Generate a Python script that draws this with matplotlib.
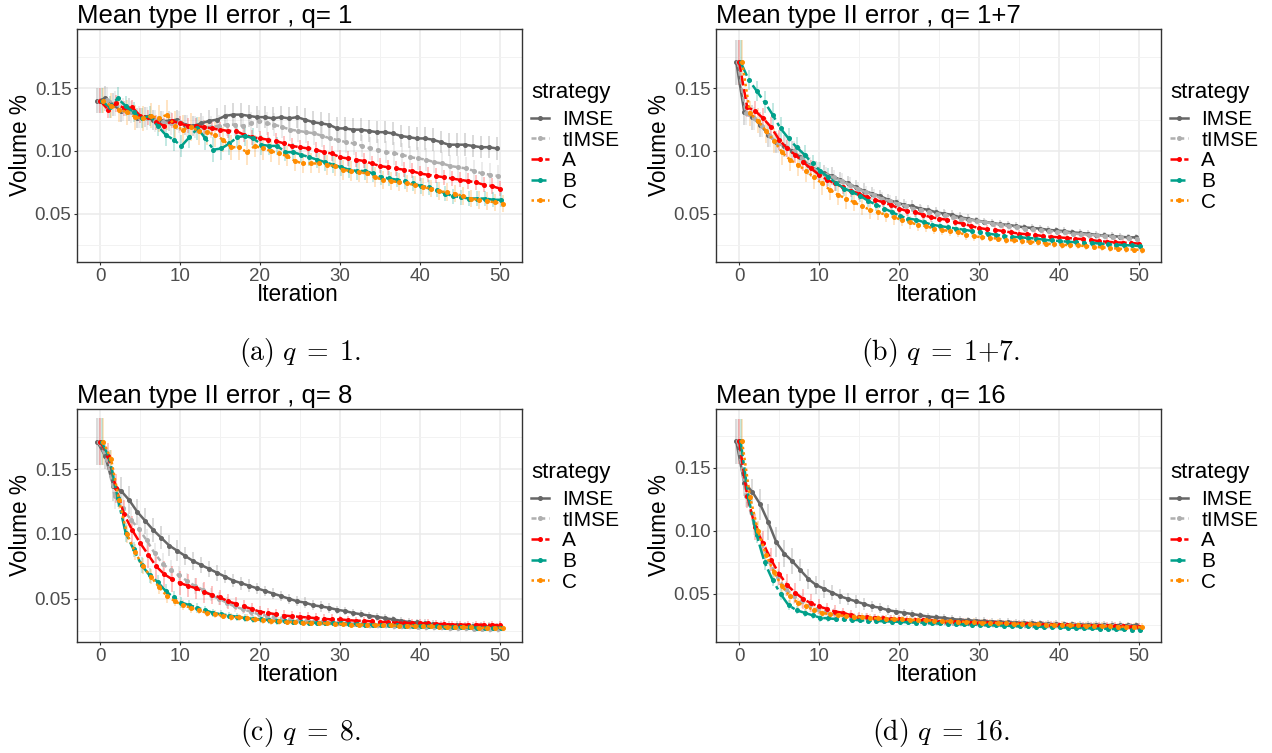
import numpy as np
import matplotlib.pyplot as plt
from matplotlib.lines import Line2D
from matplotlib.ticker import MultipleLocator

plt.rcParams['font.family'] = ['Liberation Sans', 'DejaVu Sans']
plt.rcParams['mathtext.fontset'] = 'cm'

W, H = 1272, 753

iteration = np.arange(51)
strategies = ['IMSE', 'tIMSE', 'A', 'B', 'C']
colors = ['#666666', '#AFAFAF', '#FF0000', '#00A08A', '#FF8C00']
styles = ['-', (0, (2, 1.5)), (0, (4, 1.5)), (0, (6, 1.5, 1.5, 1.5)), (0, (1, 1.2))]

titles = ['Mean type II error , q= 1', 'Mean type II error , q= 1+7',
          'Mean type II error , q= 8', 'Mean type II error , q= 16']
captions = [r'$\mathrm{(a)}\ q\;=\;1\mathrm{.}$', r'$\mathrm{(b)}\ q\;=\;1{+}7\mathrm{.}$',
            r'$\mathrm{(c)}\ q\;=\;8\mathrm{.}$', r'$\mathrm{(d)}\ q\;=\;16\mathrm{.}$']

# ---- q = 1 ----
imse_q1 = [0.140, 0.142, 0.137, 0.132, 0.133, 0.126, 0.127, 0.125, 0.124, 0.124,
           0.125, 0.121, 0.120, 0.122, 0.124, 0.125, 0.128, 0.129, 0.129, 0.128,
           0.127, 0.127, 0.126, 0.127, 0.126, 0.127, 0.125, 0.123, 0.122, 0.121,
           0.118, 0.118, 0.117, 0.117, 0.116, 0.115, 0.115, 0.114, 0.112, 0.111,
           0.110, 0.110, 0.109, 0.107, 0.105, 0.105, 0.105, 0.104, 0.103, 0.103,
           0.102]
timse_q1 = [0.140, 0.141, 0.138, 0.133, 0.131, 0.127, 0.126, 0.124, 0.123, 0.122,
            0.123, 0.120, 0.119, 0.119, 0.119, 0.120, 0.121, 0.121, 0.120, 0.122,
            0.124, 0.122, 0.121, 0.119, 0.117, 0.116, 0.115, 0.114, 0.112, 0.110,
            0.1085, 0.107, 0.106, 0.104, 0.102, 0.1005, 0.099, 0.098, 0.097, 0.095,
            0.094, 0.093, 0.091, 0.090, 0.088, 0.087, 0.086, 0.084, 0.082, 0.081,
            0.080]
a_q1 = [0.140, 0.133, 0.138, 0.134, 0.135, 0.128, 0.127, 0.123, 0.120, 0.124,
        0.122, 0.120, 0.120, 0.119, 0.118, 0.117, 0.116, 0.116, 0.113, 0.111,
        0.110, 0.109, 0.108, 0.106, 0.104, 0.103, 0.102, 0.101, 0.099, 0.098,
        0.095, 0.094, 0.093, 0.092, 0.090, 0.088, 0.087, 0.086, 0.085, 0.084,
        0.082, 0.081, 0.080, 0.079, 0.078, 0.077, 0.076, 0.075, 0.073, 0.072,
        0.070]
b_q1 = [0.140, 0.135, 0.142, 0.136, 0.131, 0.126, 0.128, 0.120, 0.113, 0.109,
        0.104, 0.111, 0.118, 0.110, 0.101, 0.102, 0.106, 0.111, 0.112, 0.110,
        0.105, 0.104, 0.104, 0.099, 0.099, 0.097, 0.095, 0.093, 0.091, 0.089,
        0.087, 0.085, 0.084, 0.084, 0.082, 0.079, 0.078, 0.077, 0.076, 0.074,
        0.072, 0.071, 0.069, 0.066, 0.064, 0.063, 0.062, 0.062, 0.062, 0.061,
        0.061]
c_q1 = [0.140, 0.136, 0.133, 0.131, 0.127, 0.126, 0.128, 0.126, 0.129, 0.120,
        0.117, 0.119, 0.116, 0.115, 0.113, 0.109, 0.103, 0.103, 0.099, 0.104,
        0.102, 0.100, 0.098, 0.096, 0.092, 0.090, 0.090, 0.090, 0.089, 0.088,
        0.085, 0.084, 0.083, 0.082, 0.079, 0.077, 0.076, 0.075, 0.074, 0.073,
        0.071, 0.070, 0.068, 0.067, 0.066, 0.064, 0.062, 0.061, 0.060, 0.059,
        0.058]
imse_q1_err = [0.010, 0.010, 0.009, 0.009, 0.009, 0.008, 0.008, 0.008, 0.008, 0.008,
               0.008, 0.008, 0.008, 0.008, 0.009, 0.009, 0.009, 0.009, 0.009, 0.009,
               0.009, 0.009, 0.009, 0.009, 0.009, 0.009, 0.009, 0.009, 0.009, 0.009,
               0.009, 0.009, 0.009, 0.009, 0.009, 0.009, 0.009, 0.009, 0.009, 0.009,
               0.009, 0.009, 0.009, 0.009, 0.009, 0.009, 0.009, 0.009, 0.009, 0.009,
               0.009]
timse_q1_err = [0.010, 0.010, 0.010, 0.009, 0.009, 0.009, 0.009, 0.009, 0.009, 0.009,
                0.009, 0.009, 0.009, 0.009, 0.009, 0.009, 0.009, 0.009, 0.009, 0.009,
                0.009, 0.009, 0.009, 0.009, 0.009, 0.009, 0.009, 0.009, 0.009, 0.009,
                0.009, 0.009, 0.009, 0.009, 0.009, 0.009, 0.009, 0.009, 0.009, 0.009,
                0.009, 0.009, 0.009, 0.009, 0.009, 0.009, 0.009, 0.009, 0.009, 0.009,
                0.009]
a_q1_err = [0.010, 0.007, 0.007, 0.006, 0.006, 0.006, 0.006, 0.006, 0.006, 0.006,
            0.006, 0.006, 0.006, 0.006, 0.006, 0.006, 0.006, 0.006, 0.006, 0.006,
            0.006, 0.006, 0.006, 0.006, 0.006, 0.006, 0.006, 0.006, 0.006, 0.006,
            0.006, 0.006, 0.006, 0.006, 0.006, 0.006, 0.006, 0.006, 0.006, 0.006,
            0.006, 0.006, 0.006, 0.006, 0.006, 0.006, 0.006, 0.006, 0.006, 0.006,
            0.006]
b_q1_err = [0.010, 0.009, 0.009, 0.008, 0.008, 0.008, 0.008, 0.008, 0.009, 0.009,
            0.009, 0.009, 0.009, 0.009, 0.010, 0.009, 0.009, 0.009, 0.008, 0.008,
            0.008, 0.007, 0.007, 0.007, 0.007, 0.007, 0.007, 0.007, 0.007, 0.007,
            0.007, 0.007, 0.007, 0.007, 0.007, 0.006, 0.006, 0.006, 0.006, 0.006,
            0.006, 0.006, 0.006, 0.006, 0.006, 0.006, 0.006, 0.006, 0.006, 0.006,
            0.006]
c_q1_err = [0.010, 0.010, 0.010, 0.010, 0.010, 0.010, 0.010, 0.011, 0.012, 0.012,
            0.012, 0.011, 0.011, 0.010, 0.010, 0.010, 0.010, 0.010, 0.010, 0.009,
            0.009, 0.009, 0.009, 0.008, 0.008, 0.008, 0.008, 0.008, 0.008, 0.008,
            0.008, 0.008, 0.008, 0.008, 0.008, 0.007, 0.007, 0.007, 0.007, 0.007,
            0.007, 0.007, 0.007, 0.007, 0.007, 0.007, 0.007, 0.007, 0.007, 0.007,
            0.007]

# ---- q = 1+7 ----
imse_q17 = [0.171, 0.131, 0.127, 0.121, 0.113, 0.107, 0.104, 0.100, 0.095, 0.089,
            0.085, 0.082, 0.080, 0.077, 0.074, 0.071, 0.068, 0.066, 0.064, 0.061,
            0.059, 0.057, 0.056, 0.054, 0.053, 0.051, 0.050, 0.049, 0.047, 0.046,
            0.0445, 0.0435, 0.0425, 0.0415, 0.041, 0.040, 0.039, 0.0385, 0.038, 0.037,
            0.0365, 0.036, 0.035, 0.0345, 0.034, 0.033, 0.0325, 0.032, 0.0315, 0.031,
            0.031]
timse_q17 = [0.171, 0.130, 0.126, 0.120, 0.112, 0.106, 0.103, 0.100, 0.094, 0.088,
             0.084, 0.081, 0.079, 0.076, 0.073, 0.070, 0.067, 0.065, 0.062, 0.060,
             0.058, 0.056, 0.054, 0.053, 0.051, 0.050, 0.049, 0.047, 0.046, 0.045,
             0.044, 0.043, 0.042, 0.041, 0.040, 0.039, 0.038, 0.0375, 0.037, 0.036,
             0.0355, 0.035, 0.034, 0.0335, 0.033, 0.0325, 0.032, 0.0315, 0.031, 0.0305,
             0.030]
a_q17 = [0.171, 0.135, 0.132, 0.126, 0.119, 0.109, 0.102, 0.097, 0.091, 0.086,
         0.081, 0.077, 0.074, 0.071, 0.068, 0.066, 0.063, 0.061, 0.059, 0.057,
         0.054, 0.052, 0.051, 0.049, 0.047, 0.046, 0.045, 0.043, 0.042, 0.040,
         0.0385, 0.0375, 0.037, 0.036, 0.035, 0.034, 0.0335, 0.033, 0.032, 0.0315,
         0.031, 0.0305, 0.030, 0.0295, 0.029, 0.028, 0.0275, 0.027, 0.0268, 0.0265,
         0.026]
b_q17 = [0.171, 0.157, 0.148, 0.139, 0.129, 0.118, 0.110, 0.103, 0.097, 0.090,
         0.084, 0.079, 0.074, 0.070, 0.067, 0.064, 0.060, 0.057, 0.054, 0.051,
         0.048, 0.046, 0.045, 0.043, 0.041, 0.040, 0.039, 0.038, 0.037, 0.036,
         0.035, 0.034, 0.033, 0.032, 0.0315, 0.031, 0.0305, 0.030, 0.029, 0.0285,
         0.028, 0.0275, 0.027, 0.0268, 0.0265, 0.026, 0.0255, 0.025, 0.0248, 0.0245,
         0.024]
c_q17 = [0.171, 0.130, 0.124, 0.116, 0.108, 0.099, 0.093, 0.089, 0.084, 0.079,
         0.074, 0.069, 0.065, 0.062, 0.059, 0.056, 0.053, 0.051, 0.049, 0.047,
         0.045, 0.043, 0.041, 0.040, 0.038, 0.037, 0.036, 0.035, 0.033, 0.032,
         0.031, 0.0305, 0.030, 0.029, 0.0285, 0.028, 0.0275, 0.027, 0.026, 0.0255,
         0.025, 0.0248, 0.0245, 0.024, 0.0235, 0.023, 0.0225, 0.022, 0.0215, 0.0212,
         0.021]
imse_q17_err = [0.018, 0.010, 0.010, 0.010, 0.010, 0.009, 0.009, 0.008, 0.008, 0.008,
                0.007, 0.007, 0.007, 0.006, 0.006, 0.006, 0.006, 0.005, 0.005, 0.005,
                0.005, 0.005, 0.005, 0.004, 0.004, 0.004, 0.004, 0.004, 0.004, 0.004,
                0.003, 0.003, 0.003, 0.003, 0.003, 0.003, 0.003, 0.003, 0.003, 0.003,
                0.003, 0.003, 0.003, 0.003, 0.003, 0.003, 0.003, 0.003, 0.003, 0.003,
                0.003]
timse_q17_err = [0.018, 0.009, 0.009, 0.009, 0.009, 0.008, 0.008, 0.008, 0.007, 0.007,
                 0.007, 0.006, 0.006, 0.006, 0.006, 0.005, 0.005, 0.005, 0.005, 0.005,
                 0.004, 0.004, 0.004, 0.004, 0.004, 0.004, 0.004, 0.004, 0.003, 0.003,
                 0.003, 0.003, 0.003, 0.003, 0.003, 0.003, 0.003, 0.003, 0.003, 0.003,
                 0.003, 0.003, 0.003, 0.003, 0.003, 0.003, 0.003, 0.003, 0.003, 0.003,
                 0.003]
a_q17_err = [0.018, 0.008, 0.008, 0.008, 0.008, 0.008, 0.007, 0.007, 0.007, 0.007,
             0.006, 0.006, 0.006, 0.005, 0.005, 0.005, 0.005, 0.005, 0.004, 0.004,
             0.004, 0.004, 0.004, 0.004, 0.004, 0.003, 0.003, 0.003, 0.003, 0.003,
             0.003, 0.003, 0.003, 0.003, 0.003, 0.003, 0.003, 0.003, 0.003, 0.003,
             0.003, 0.003, 0.003, 0.003, 0.003, 0.003, 0.003, 0.003, 0.003, 0.003,
             0.003]
b_q17_err = [0.018, 0.008, 0.008, 0.009, 0.009, 0.009, 0.008, 0.008, 0.008, 0.007,
             0.007, 0.007, 0.006, 0.006, 0.006, 0.005, 0.005, 0.005, 0.005, 0.004,
             0.004, 0.004, 0.004, 0.004, 0.003, 0.003, 0.003, 0.003, 0.003, 0.003,
             0.003, 0.003, 0.003, 0.003, 0.003, 0.003, 0.003, 0.003, 0.003, 0.003,
             0.003, 0.003, 0.003, 0.003, 0.003, 0.003, 0.003, 0.003, 0.003, 0.003,
             0.003]
c_q17_err = [0.018, 0.010, 0.010, 0.010, 0.010, 0.010, 0.009, 0.009, 0.009, 0.009,
             0.009, 0.008, 0.008, 0.008, 0.007, 0.007, 0.007, 0.006, 0.006, 0.006,
             0.005, 0.005, 0.005, 0.005, 0.004, 0.004, 0.004, 0.004, 0.004, 0.004,
             0.003, 0.003, 0.003, 0.003, 0.003, 0.003, 0.003, 0.003, 0.003, 0.003,
             0.003, 0.003, 0.003, 0.003, 0.003, 0.003, 0.003, 0.003, 0.003, 0.003,
             0.003]

# ---- q = 8 ----
imse_q8 = [0.171, 0.160, 0.137, 0.133, 0.126, 0.117, 0.110, 0.103, 0.097, 0.091,
           0.087, 0.083, 0.079, 0.076, 0.073, 0.070, 0.067, 0.064, 0.062, 0.060,
           0.058, 0.056, 0.054, 0.052, 0.050, 0.048, 0.047, 0.045, 0.044, 0.043,
           0.0415, 0.0405, 0.039, 0.038, 0.037, 0.036, 0.035, 0.034, 0.033, 0.032,
           0.0317, 0.031, 0.0305, 0.030, 0.0298, 0.0295, 0.0292, 0.029, 0.0288, 0.0287,
           0.0285]
timse_q8 = [0.171, 0.158, 0.129, 0.120, 0.111, 0.104, 0.095, 0.085, 0.077, 0.072,
            0.068, 0.064, 0.060, 0.057, 0.053, 0.050, 0.047, 0.044, 0.042, 0.040,
            0.038, 0.037, 0.036, 0.035, 0.034, 0.0335, 0.033, 0.0325, 0.032, 0.0318,
            0.0315, 0.031, 0.0308, 0.0305, 0.030, 0.0298, 0.0295, 0.0292, 0.029, 0.0288,
            0.0285, 0.0283, 0.028, 0.0278, 0.0276, 0.0274, 0.0272, 0.027, 0.027, 0.0268,
            0.0265]
a_q8 = [0.171, 0.160, 0.135, 0.115, 0.103, 0.093, 0.084, 0.075, 0.069, 0.065,
        0.062, 0.060, 0.058, 0.055, 0.053, 0.051, 0.048, 0.046, 0.044, 0.042,
        0.040, 0.039, 0.038, 0.037, 0.0365, 0.036, 0.0355, 0.035, 0.0345, 0.034,
        0.034, 0.0335, 0.033, 0.033, 0.0325, 0.032, 0.032, 0.0315, 0.0315, 0.031,
        0.031, 0.031, 0.0305, 0.0305, 0.030, 0.030, 0.030, 0.030, 0.030, 0.0298,
        0.0296]
b_q8 = [0.171, 0.158, 0.128, 0.101, 0.088, 0.076, 0.068, 0.063, 0.056, 0.051,
        0.047, 0.045, 0.043, 0.041, 0.039, 0.038, 0.037, 0.036, 0.035, 0.0345,
        0.034, 0.0335, 0.033, 0.0325, 0.032, 0.032, 0.0315, 0.0315, 0.031, 0.031,
        0.031, 0.0305, 0.0305, 0.030, 0.030, 0.030, 0.0298, 0.0295, 0.0293, 0.029,
        0.029, 0.0288, 0.0286, 0.0284, 0.0282, 0.028, 0.0278, 0.0277, 0.0276, 0.0275,
        0.0275]
c_q8 = [0.171, 0.158, 0.126, 0.100, 0.086, 0.075, 0.067, 0.059, 0.052, 0.048,
        0.045, 0.043, 0.041, 0.039, 0.038, 0.037, 0.036, 0.0355, 0.035, 0.034,
        0.0335, 0.033, 0.0325, 0.032, 0.032, 0.0315, 0.0315, 0.031, 0.031, 0.0305,
        0.0305, 0.030, 0.030, 0.030, 0.0298, 0.0296, 0.0294, 0.0292, 0.029, 0.029,
        0.0288, 0.0286, 0.0284, 0.0282, 0.028, 0.028, 0.0278, 0.0276, 0.0275, 0.0275,
        0.0275]
imse_q8_err = [0.018, 0.010, 0.012, 0.011, 0.011, 0.010, 0.010, 0.009, 0.009, 0.008,
               0.008, 0.007, 0.007, 0.006, 0.006, 0.006, 0.005, 0.005, 0.005, 0.005,
               0.004, 0.004, 0.004, 0.004, 0.004, 0.004, 0.004, 0.004, 0.004, 0.004,
               0.003, 0.003, 0.003, 0.003, 0.003, 0.003, 0.003, 0.003, 0.003, 0.003,
               0.003, 0.003, 0.003, 0.003, 0.003, 0.003, 0.003, 0.003, 0.003, 0.003,
               0.003]
timse_q8_err = [0.018, 0.009, 0.010, 0.010, 0.010, 0.009, 0.009, 0.008, 0.008, 0.008,
                0.007, 0.006, 0.006, 0.005, 0.005, 0.005, 0.004, 0.004, 0.004, 0.004,
                0.003, 0.003, 0.003, 0.003, 0.003, 0.003, 0.003, 0.003, 0.003, 0.003,
                0.003, 0.003, 0.003, 0.003, 0.003, 0.003, 0.003, 0.003, 0.003, 0.003,
                0.003, 0.003, 0.003, 0.003, 0.003, 0.003, 0.003, 0.003, 0.003, 0.003,
                0.003]
a_q8_err = [0.018, 0.010, 0.011, 0.011, 0.011, 0.010, 0.010, 0.010, 0.010, 0.010,
            0.009, 0.009, 0.008, 0.008, 0.007, 0.006, 0.006, 0.005, 0.005, 0.005,
            0.004, 0.004, 0.004, 0.004, 0.004, 0.004, 0.004, 0.004, 0.004, 0.004,
            0.003, 0.003, 0.003, 0.003, 0.003, 0.003, 0.003, 0.003, 0.003, 0.003,
            0.003, 0.003, 0.003, 0.003, 0.003, 0.003, 0.003, 0.003, 0.003, 0.003,
            0.003]
b_q8_err = [0.018, 0.007, 0.007, 0.007, 0.006, 0.006, 0.006, 0.005, 0.005, 0.005,
            0.004, 0.004, 0.004, 0.003, 0.003, 0.003, 0.003, 0.003, 0.003, 0.003,
            0.003, 0.003, 0.003, 0.002, 0.002, 0.002, 0.002, 0.002, 0.002, 0.002,
            0.002, 0.002, 0.002, 0.002, 0.002, 0.002, 0.002, 0.002, 0.002, 0.002,
            0.002, 0.002, 0.002, 0.002, 0.002, 0.002, 0.002, 0.002, 0.002, 0.002,
            0.002]
c_q8_err = [0.018, 0.007, 0.007, 0.007, 0.006, 0.006, 0.006, 0.005, 0.005, 0.004,
            0.004, 0.004, 0.003, 0.003, 0.003, 0.003, 0.003, 0.003, 0.003, 0.003,
            0.003, 0.003, 0.003, 0.002, 0.002, 0.002, 0.002, 0.002, 0.002, 0.002,
            0.002, 0.002, 0.002, 0.002, 0.002, 0.002, 0.002, 0.002, 0.002, 0.002,
            0.002, 0.002, 0.002, 0.002, 0.002, 0.002, 0.002, 0.002, 0.002, 0.002,
            0.002]

# ---- q = 16 ----
imse_q16 = [0.171, 0.138, 0.131, 0.121, 0.107, 0.091, 0.082, 0.076, 0.069, 0.062,
            0.057, 0.054, 0.051, 0.048, 0.046, 0.044, 0.042, 0.040, 0.039, 0.037,
            0.036, 0.035, 0.034, 0.033, 0.032, 0.0314, 0.031, 0.030, 0.0295, 0.029,
            0.0287, 0.0283, 0.028, 0.0278, 0.0275, 0.0272, 0.027, 0.0268, 0.0265, 0.0262,
            0.026, 0.0258, 0.0257, 0.0256, 0.0255, 0.0254, 0.0253, 0.0252, 0.0251, 0.025,
            0.025]
timse_q16 = [0.171, 0.128, 0.106, 0.090, 0.075, 0.063, 0.054, 0.048, 0.044, 0.041,
             0.038, 0.036, 0.035, 0.034, 0.033, 0.032, 0.0315, 0.031, 0.0305, 0.030,
             0.0295, 0.029, 0.0288, 0.0285, 0.028, 0.0278, 0.0275, 0.0272, 0.027, 0.0268,
             0.0266, 0.0264, 0.0262, 0.026, 0.0258, 0.0256, 0.0255, 0.0254, 0.0253, 0.0252,
             0.0251, 0.025, 0.0249, 0.0248, 0.0247, 0.0246, 0.0245, 0.0244, 0.0243, 0.0242,
             0.024]
a_q16 = [0.171, 0.128, 0.103, 0.090, 0.077, 0.066, 0.057, 0.051, 0.046, 0.0425,
         0.040, 0.038, 0.036, 0.035, 0.033, 0.032, 0.0315, 0.031, 0.0305, 0.030,
         0.030, 0.0295, 0.029, 0.029, 0.0285, 0.028, 0.028, 0.0278, 0.0275, 0.0272,
         0.027, 0.0268, 0.0266, 0.0264, 0.0262, 0.026, 0.0258, 0.0256, 0.0254, 0.0252,
         0.025, 0.0249, 0.0248, 0.0247, 0.0246, 0.0245, 0.0244, 0.0243, 0.0242, 0.0241,
         0.024]
b_q16 = [0.171, 0.126, 0.097, 0.075, 0.061, 0.050, 0.041, 0.037, 0.035, 0.033,
         0.031, 0.0305, 0.030, 0.0298, 0.0295, 0.029, 0.0288, 0.0285, 0.0282, 0.028,
         0.0277, 0.0275, 0.0272, 0.027, 0.0268, 0.0265, 0.0263, 0.026, 0.0258, 0.0256,
         0.0254, 0.0252, 0.025, 0.0248, 0.0246, 0.0244, 0.0242, 0.024, 0.0238, 0.0236,
         0.0234, 0.0232, 0.023, 0.0228, 0.0226, 0.0224, 0.0222, 0.022, 0.0218, 0.0216,
         0.0214]
c_q16 = [0.171, 0.127, 0.100, 0.081, 0.067, 0.056, 0.048, 0.043, 0.040, 0.037,
         0.035, 0.034, 0.033, 0.0325, 0.032, 0.0315, 0.031, 0.0305, 0.030, 0.030,
         0.0298, 0.0295, 0.0292, 0.029, 0.0288, 0.0285, 0.0282, 0.028, 0.0278, 0.0275,
         0.0272, 0.027, 0.0268, 0.0266, 0.0264, 0.0262, 0.026, 0.0258, 0.0256, 0.0254,
         0.0252, 0.025, 0.0249, 0.0248, 0.0246, 0.0244, 0.0242, 0.024, 0.0238, 0.0236,
         0.0235]
imse_q16_err = [0.018, 0.010, 0.010, 0.012, 0.014, 0.012, 0.011, 0.010, 0.009, 0.008,
                0.007, 0.007, 0.006, 0.006, 0.005, 0.005, 0.005, 0.004, 0.004, 0.004,
                0.003, 0.003, 0.003, 0.003, 0.003, 0.003, 0.003, 0.003, 0.003, 0.003,
                0.003, 0.003, 0.003, 0.003, 0.003, 0.003, 0.003, 0.003, 0.003, 0.003,
                0.003, 0.003, 0.003, 0.003, 0.003, 0.003, 0.003, 0.003, 0.003, 0.003,
                0.003]
timse_q16_err = [0.018, 0.009, 0.009, 0.008, 0.008, 0.007, 0.006, 0.006, 0.005, 0.005,
                 0.004, 0.004, 0.004, 0.003, 0.003, 0.003, 0.003, 0.003, 0.003, 0.003,
                 0.003, 0.003, 0.003, 0.003, 0.003, 0.003, 0.003, 0.003, 0.003, 0.003,
                 0.003, 0.003, 0.003, 0.003, 0.003, 0.003, 0.003, 0.003, 0.003, 0.003,
                 0.003, 0.003, 0.003, 0.003, 0.003, 0.003, 0.003, 0.003, 0.003, 0.003,
                 0.003]
a_q16_err = [0.018, 0.010, 0.010, 0.010, 0.009, 0.009, 0.009, 0.008, 0.008, 0.007,
             0.006, 0.005, 0.005, 0.004, 0.004, 0.004, 0.003, 0.003, 0.003, 0.003,
             0.003, 0.003, 0.003, 0.003, 0.003, 0.003, 0.003, 0.003, 0.003, 0.003,
             0.003, 0.003, 0.003, 0.003, 0.003, 0.003, 0.003, 0.003, 0.003, 0.003,
             0.003, 0.003, 0.003, 0.003, 0.003, 0.003, 0.003, 0.003, 0.003, 0.003,
             0.003]
b_q16_err = [0.018, 0.007, 0.007, 0.006, 0.005, 0.005, 0.004, 0.003, 0.003, 0.003,
             0.003, 0.003, 0.002, 0.002, 0.002, 0.002, 0.002, 0.002, 0.002, 0.002,
             0.002, 0.002, 0.002, 0.002, 0.002, 0.002, 0.002, 0.002, 0.002, 0.002,
             0.002, 0.002, 0.002, 0.002, 0.002, 0.002, 0.002, 0.002, 0.002, 0.002,
             0.002, 0.002, 0.002, 0.002, 0.002, 0.002, 0.002, 0.002, 0.002, 0.002,
             0.002]
c_q16_err = [0.018, 0.008, 0.008, 0.007, 0.006, 0.006, 0.005, 0.004, 0.004, 0.003,
             0.003, 0.003, 0.003, 0.003, 0.003, 0.003, 0.003, 0.003, 0.003, 0.003,
             0.003, 0.003, 0.003, 0.003, 0.003, 0.003, 0.003, 0.003, 0.003, 0.003,
             0.003, 0.003, 0.003, 0.003, 0.003, 0.003, 0.003, 0.003, 0.003, 0.003,
             0.003, 0.003, 0.003, 0.003, 0.003, 0.003, 0.003, 0.003, 0.003, 0.003,
             0.003]

panels = [
    ([imse_q1, timse_q1, a_q1, b_q1, c_q1],
     [imse_q1_err, timse_q1_err, a_q1_err, b_q1_err, c_q1_err]),
    ([imse_q17, timse_q17, a_q17, b_q17, c_q17],
     [imse_q17_err, timse_q17_err, a_q17_err, b_q17_err, c_q17_err]),
    ([imse_q8, timse_q8, a_q8, b_q8, c_q8],
     [imse_q8_err, timse_q8_err, a_q8_err, b_q8_err, c_q8_err]),
    ([imse_q16, timse_q16, a_q16, b_q16, c_q16],
     [imse_q16_err, timse_q16_err, a_q16_err, b_q16_err, c_q16_err]),
]

# pixel boxes (left, top, right, bottom) and y limits of each panel
boxes = [(77, 29, 522, 262), (716, 29, 1161, 262),
         (77, 409, 522, 642), (716, 409, 1161, 642)]
ylims = [(0.0113, 0.1974), (0.0113, 0.1974), (0.0166, 0.1963), (0.0118, 0.1967)]

fig = plt.figure(figsize=(W / 100, H / 100), dpi=100)


def fx(px):
    return px / W


def fy(py):
    return 1 - py / H


for k in range(4):
    l, t, r, b = boxes[k]
    ax = fig.add_axes([fx(l), fy(b), fx(r - l), (b - t) / H])
    series, errs = panels[k]
    for i, name in enumerate(strategies):
        xs = iteration + (i - 2) * 0.18
        ax.errorbar(xs, series[i], yerr=errs[i], fmt='none', ecolor=colors[i],
                    elinewidth=1.1, alpha=0.3, capsize=0, zorder=2)
    for i, name in enumerate(strategies):
        xs = iteration + (i - 2) * 0.18
        ax.plot(xs, series[i], color=colors[i], linestyle=styles[i], lw=1.8,
                marker='o', markersize=2.6, zorder=3 + i)

    ax.set_xlim(-2.9, 52.8)
    ax.set_ylim(*ylims[k])
    ax.xaxis.set_major_locator(MultipleLocator(10))
    ax.xaxis.set_minor_locator(MultipleLocator(5))
    ax.set_yticks([0.05, 0.10, 0.15])
    ax.set_yticklabels(['0.05', '0.10', '0.15'])
    ax.set_yticks([0.025, 0.075, 0.125, 0.175], minor=True)
    ax.grid(which='major', color='#EBEBEB', lw=1.1, zorder=0)
    ax.grid(which='minor', color='#F2F2F2', lw=0.7, zorder=0)
    ax.set_axisbelow(True)
    ax.tick_params(which='major', length=2, width=0.8, color='#333333',
                   labelsize=13.5, labelcolor='#4D4D4D', pad=2)
    ax.tick_params(which='minor', length=0)
    for sp in ax.spines.values():
        sp.set_color('#333333')
        sp.set_linewidth(1.0)

    oy = 0 if k < 2 else 380
    cx = (l + r) / 2
    fig.text(fx(l), fy(oy + 23), titles[k], fontsize=18.5, ha='left', va='baseline')
    fig.text(fx(cx - 2), fy(oy + 301), 'Iteration', fontsize=16.3, ha='center', va='baseline')
    fig.text(fx(l - 56), fy(oy + 145), 'Volume %', fontsize=16.3, rotation=90,
             ha='center', va='center')

    # legend: title drawn separately so the gap below it matches
    fig.text(fx(r + 9), fy(oy + 98), 'strategy', fontsize=16, ha='left', va='baseline')
    handles = [Line2D([], [], color=colors[i], linestyle=styles[i], lw=1.8,
                      marker='o', markersize=2.6) for i in range(5)]
    ax.legend(handles, strategies, loc='upper left',
              bbox_to_anchor=(fx(r + 9), fy(oy + 110)),
              bbox_transform=fig.transFigure, frameon=False,
              fontsize=15, handlelength=0.85, handletextpad=0.65, labelspacing=0.08,
              borderaxespad=0, borderpad=0)

    capx = 300 if k % 2 == 0 else 941
    fig.text(fx(capx), fy(oy + 360), captions[k], fontsize=20, ha='center', va='baseline')

fig.savefig('out.png', dpi=100)
